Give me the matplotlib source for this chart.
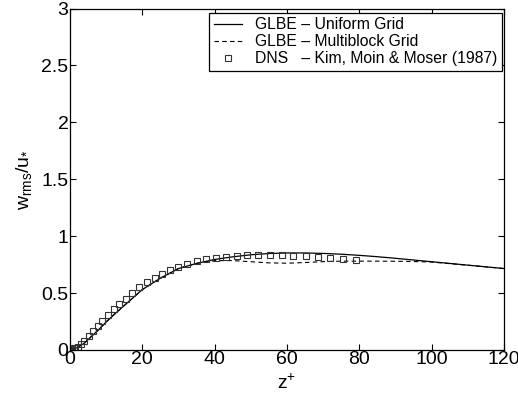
import matplotlib
matplotlib.use("Agg")
import matplotlib.pyplot as plt

plt.rcParams['font.family'] = ['Liberation Sans', 'DejaVu Sans']
plt.rcParams['mathtext.fontset'] = 'custom'
plt.rcParams['mathtext.rm'] = 'Liberation Sans'
plt.rcParams['mathtext.it'] = 'Liberation Sans'

# GLBE uniform grid (solid)
z_uni = [0, 2, 4, 5, 6, 8, 10, 12, 15, 20, 22, 25, 30, 35, 40, 45, 50, 55, 60,
         65, 70, 75, 80, 85, 90, 95, 100, 105, 110, 115, 120]
w_uni = [0, 0.02, 0.06, 0.09, 0.12, 0.18, 0.245, 0.305, 0.39, 0.53, 0.57, 0.63,
         0.715, 0.76, 0.795, 0.818, 0.836, 0.847, 0.852, 0.852, 0.848, 0.841,
         0.831, 0.819, 0.805, 0.79, 0.775, 0.76, 0.745, 0.73, 0.715]

# GLBE multiblock grid (dashed)
z_mb = [0, 2, 4, 5, 6, 8, 10, 12, 15, 20, 22, 25, 30, 35, 40, 45, 50, 55, 60,
        65, 70, 75, 80, 85, 90, 95, 100, 105, 110, 115, 120]
w_mb = [0, 0.02, 0.06, 0.09, 0.12, 0.18, 0.245, 0.305, 0.39, 0.53, 0.57, 0.63,
        0.715, 0.76, 0.785, 0.785, 0.775, 0.765, 0.762, 0.768, 0.776, 0.78,
        0.78, 0.78, 0.779, 0.777, 0.772, 0.758, 0.744, 0.73, 0.715]

# DNS Kim, Moin & Moser (1987)
z_dns = [0, 0.1, 0.3, 0.6, 1.0, 1.5, 2.1, 3.0, 4.0, 5.3, 6.5, 7.7, 9.0, 10.5,
         12.1, 13.7, 15.5, 17.1, 19.1, 21.3, 23.4, 25.4, 27.6, 30.0, 32.4, 35.0,
         37.6, 40.4, 43.1, 46.1, 49.0, 52.0, 55.3, 58.5, 61.7, 65.2, 68.6, 72.0,
         75.6, 79.1]
w_dns = [0, 0.001, 0.004, 0.008, 0.013, 0.02, 0.03, 0.053, 0.08, 0.12, 0.17,
         0.21, 0.257, 0.307, 0.357, 0.40, 0.45, 0.50, 0.55, 0.595, 0.63, 0.667,
         0.70, 0.73, 0.754, 0.778, 0.795, 0.81, 0.818, 0.827, 0.833, 0.836,
         0.836, 0.833, 0.827, 0.825, 0.816, 0.807, 0.80, 0.79]

fig = plt.figure(figsize=(5.18, 4.05), dpi=100)
ax = fig.add_axes([0.135, 0.136, 0.838, 0.843])

ax.plot(z_uni, w_uni, '-', color='black', lw=0.9, label='GLBE – Uniform Grid')
ax.plot(z_mb, w_mb, '--', color='black', lw=0.8, dashes=(4, 3),
        label='GLBE – Multiblock Grid')
ax.plot(z_dns, w_dns, 's', mfc='none', mec='#333333', ms=4, mew=0.8,
        label='DNS   – Kim, Moin & Moser (1987)')

ax.set_xlim(0, 120)
ax.set_ylim(0, 3)
ax.set_xticks([0, 20, 40, 60, 80, 100, 120])
ax.set_yticks([0, 0.5, 1, 1.5, 2, 2.5, 3])
ax.set_yticklabels(['0', '0.5', '1', '1.5', '2', '2.5', '3'])
ax.tick_params(direction='in', top=True, right=True, length=4, width=0.8,
               labelsize=14, pad=1)
for s in ax.spines.values():
    s.set_linewidth(0.9)

ax.set_xlabel(r'z$^{+}$', fontsize=14, labelpad=4)
ax.set_ylabel(r'w$_{\mathregular{rms}}$/u$_{*}$', fontsize=14, labelpad=5)

leg = ax.legend(loc='upper right', bbox_to_anchor=(0.995, 0.988), fontsize=11.3,
                frameon=True, fancybox=False, edgecolor='black', framealpha=1,
                handlelength=1.8, handletextpad=0.8, borderpad=0.3,
                labelspacing=0.12, borderaxespad=0)
leg.get_frame().set_linewidth(0.9)

fig.savefig('out.png', dpi=100)
